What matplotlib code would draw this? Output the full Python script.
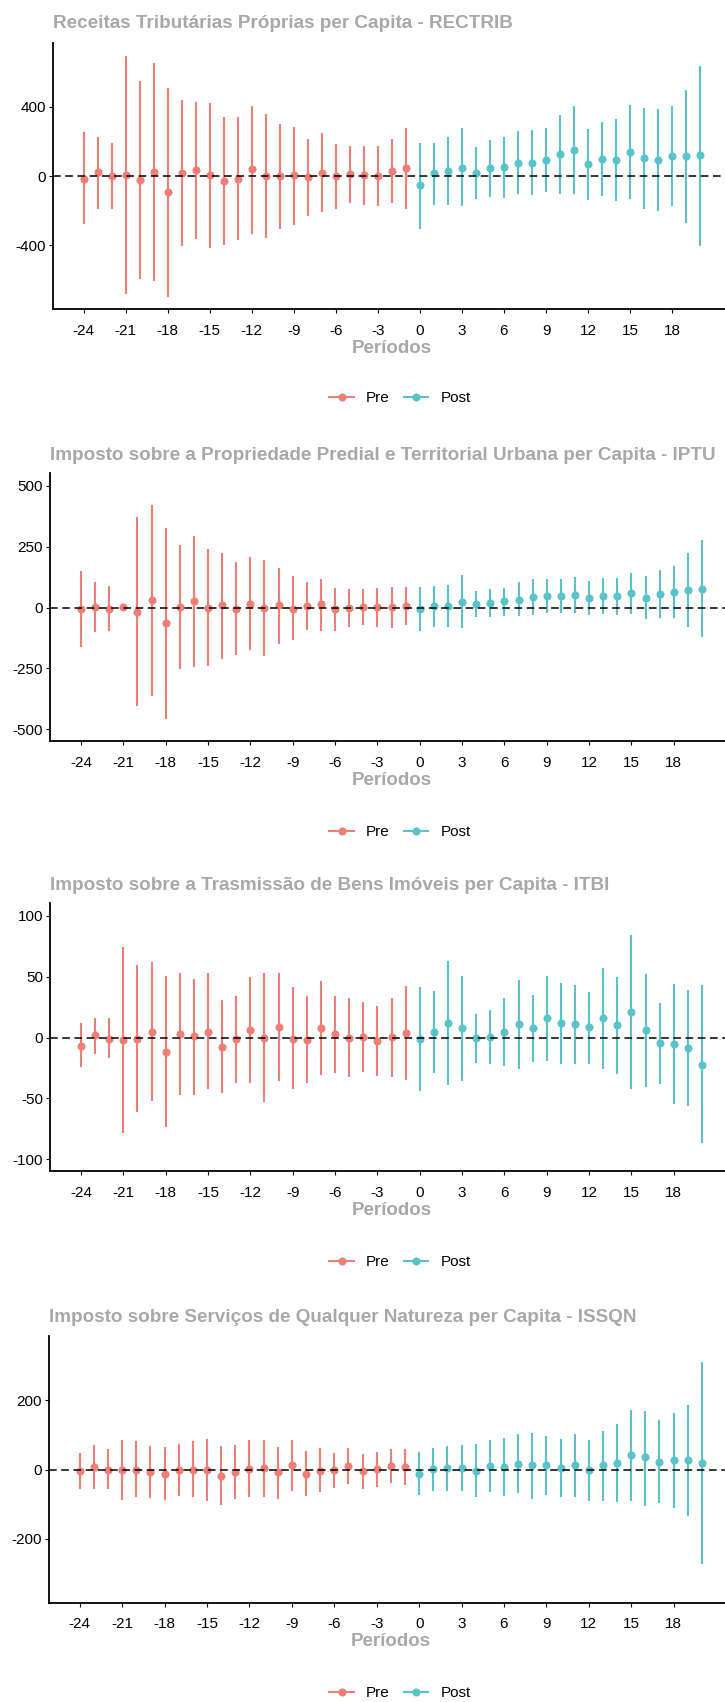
import matplotlib
matplotlib.use("Agg")
import matplotlib.pyplot as plt
from matplotlib.lines import Line2D

plt.rcParams["font.family"] = ["Liberation Sans", "DejaVu Sans"]
plt.rcParams["axes.unicode_minus"] = False

# ---------------- DADOS ----------------
periodos = list(range(-24, 21))   # -24..-1 = Pre, 0..20 = Post
xticks = list(range(-24, 19, 3))

titulos = [
    "Receitas Tributárias Próprias per Capita - RECTRIB",
    "Imposto sobre a Propriedade Predial e Territorial Urbana per Capita - IPTU",
    "Imposto sobre a Trasmissão de Bens Imóveis per Capita - ITBI",
    "Imposto sobre Serviços de Qualquer Natureza per Capita - ISSQN",
]

# RECTRIB
rectrib_est = [-15, 23, 0, 6, -23, 23, -94, 17, 35, 6, -27, -15, 40, 0, 0, 6, -4, 17, 0, 13, 6, 0, 27, 46,
               -54, 19, 31, 50, 19, 46, 52, 77, 77, 94, 127, 150, 69, 100, 91, 141, 104, 94, 114, 114, 120]
rectrib_hi = [253, 229, 191, 694, 549, 654, 511, 441, 430, 420, 341, 341, 407, 359, 303, 285, 216, 249, 185, 175, 175, 177, 212, 278,
              189, 193, 227, 276, 168, 208, 229, 260, 268, 278, 355, 407, 272, 312, 328, 413, 393, 389, 403, 499, 638]
rectrib_lo = [-276, -189, -191, -684, -592, -605, -698, -401, -364, -418, -399, -372, -332, -355, -305, -281, -231, -208, -191, -154, -166, -175, -158, -189,
              -303, -164, -164, -172, -131, -123, -127, -104, -110, -91, -104, -104, -137, -112, -143, -131, -189, -199, -172, -272, -401]

# IPTU
iptu_est = [-4, 3, -4, 3, -18, 29, -64, 3, 25, 0, 10, -4, 16, 0, 10, -4, 7, 14, -4, 0, 3, 3, 3, 8,
            -7, 7, 7, 22, 16, 19, 26, 32, 42, 47, 49, 53, 38, 49, 49, 59, 38, 56, 62, 74, 78]
iptu_hi = [152, 107, 89, 8, 373, 421, 326, 256, 295, 242, 225, 189, 208, 197, 164, 129, 105, 118, 82, 75, 77, 82, 86, 86,
           84, 89, 93, 133, 70, 75, 82, 103, 116, 116, 119, 126, 110, 122, 122, 142, 129, 153, 171, 223, 278]
iptu_lo = [-162, -101, -97, -2, -403, -363, -460, -253, -244, -240, -210, -196, -175, -201, -148, -133, -92, -97, -95, -78, -73, -78, -84, -71,
           -97, -82, -78, -85, -37, -40, -36, -36, -29, -23, -21, -23, -29, -26, -29, -26, -48, -45, -45, -78, -123]

# ITBI
itbi_est = [-6.6, 1.9, -0.8, -2.2, -0.8, 4.9, -11.8, 3.3, 1.4, 4.9, -7.4, -1.4, 6.3, 0, 9.0, -0.8, -2.2, 7.7, 2.7, 0, 0.5, -2.5, 0.5, 3.8,
            -0.8, 4.4, 12.3, 7.7, 0, 0.5, 4.9, 11.0, 7.7, 16.2, 11.8, 11.0, 8.5, 16.2, 10.4, 21.4, 6.3, -4.7, -5.2, -8.5, -22.2]
itbi_hi = [11.8, 16.4, 15.9, 74.5, 59.5, 62.2, 50.4, 52.9, 48.5, 52.9, 31.0, 34.5, 49.9, 52.9, 52.9, 41.4, 34.2, 46.3, 34.2, 32.3, 29.3, 26.3, 32.9, 42.5,
           41.9, 38.6, 62.7, 51.0, 19.7, 22.5, 32.6, 47.7, 34.8, 51.0, 45.2, 43.3, 37.5, 57.5, 49.9, 84.7, 52.6, 28.8, 44.4, 39.2, 43.0]
itbi_lo = [-24.4, -13.2, -16.7, -78.1, -61.1, -51.8, -73.4, -47.4, -46.9, -42.7, -45.8, -37.3, -37.5, -53.2, -35.6, -42.7, -37.5, -30.4, -29.3, -32.3, -28.2, -31.8, -32.1, -35.1,
           -43.6, -29.3, -38.9, -35.6, -20.6, -21.9, -23.3, -25.8, -20.0, -19.5, -21.4, -21.4, -21.4, -25.5, -29.9, -42.2, -40.3, -38.1, -54.5, -55.9, -87.1]

# ISSQN
issqn_est = [-5, 8, 0, -2, 0, -7, -12, 0, 0, 0, -18, -7, 2, 5, -8, 12, -12, -3, 0, 10, -5, 1, 10, 7,
             -12, 2, 5, 5, -5, 10, 8, 16, 12, 12, 5, 14, -2, 12, 18, 41, 35, 23, 28, 28, 18]
issqn_hi = [47, 70, 59, 86, 82, 68, 65, 75, 82, 88, 67, 72, 84, 86, 65, 84, 54, 62, 49, 62, 44, 51, 60, 60,
            50, 63, 69, 71, 74, 85, 90, 102, 105, 96, 87, 102, 85, 112, 132, 172, 169, 144, 163, 187, 311]
issqn_lo = [-57, -57, -57, -88, -80, -82, -87, -76, -80, -90, -103, -86, -78, -80, -85, -63, -75, -66, -52, -42, -57, -51, -40, -44,
            -73, -61, -61, -61, -80, -66, -77, -69, -85, -73, -80, -78, -90, -90, -95, -92, -104, -97, -110, -133, -273]

estimativas = [rectrib_est, iptu_est, itbi_est, issqn_est]
superior = [rectrib_hi, iptu_hi, itbi_hi, issqn_hi]
inferior = [rectrib_lo, iptu_lo, itbi_lo, issqn_lo]
yticks = [[-400, 0, 400], [-500, -250, 0, 250, 500], [-100, -50, 0, 50, 100], [-200, 0, 200]]
ylims = [(-768, 768), (-550, 552), (-110, 110.4), (-384, 386)]

# ---------------- LAYOUT ----------------
W, H = 725, 1702
COR_PRE = "#EE7E76"
COR_POST = "#58C3C8"
CINZA = "#A8A8A8"

# (left, top, right, bottom) do painel em pixels, y do titulo, y da legenda
paineis = [
    (52.7, 43.3, 731, 309.0, 24, 398),
    (50.0, 473.3, 733, 741.3, 455, 832),
    (50.0, 903.3, 733, 1171.3, 885, 1262),
    (48.7, 1335.7, 733, 1602.7, 1317, 1693),
]

fig = plt.figure(figsize=(W / 100, H / 100), dpi=100)

for i, (l, t, r, b, ytit, yleg) in enumerate(paineis):
    ax = fig.add_axes([l / W, 1 - b / H, (r - l) / W, (b - t) / H])
    est, hi, lo = estimativas[i], superior[i], inferior[i]

    for p, e, h, lw in zip(periodos, est, hi, lo):
        cor = COR_PRE if p < 0 else COR_POST
        ax.vlines(p, lw, h, color=cor, linewidth=1.5, zorder=2)
        ax.plot(p, e, "o", color=cor, markersize=4.8, zorder=3)

    ax.axhline(0, color="black", linestyle=(0, (5, 3)), linewidth=1.1, zorder=4)

    ax.set_xlim(-26.2, 22.2)
    ax.set_ylim(*ylims[i])
    ax.set_xticks(xticks)
    ax.set_yticks(yticks[i])
    ax.tick_params(labelsize=11, colors="black", length=3, width=0.8, pad=2)
    ax.tick_params(axis="x", pad=7.5)

    for lado in ["top", "right"]:
        ax.spines[lado].set_visible(False)
    for lado in ["left", "bottom"]:
        ax.spines[lado].set_linewidth(1.3)
        ax.spines[lado].set_color("black")

    ax.set_xlabel("Períodos", fontsize=13.5, fontweight="bold", color=CINZA, labelpad=1.5)

    fig.text(l / W, 1 - ytit / H, titulos[i], fontsize=13.6, fontweight="bold",
             color=CINZA, ha="left", va="center")

    handles = [
        Line2D([0], [0], color=COR_PRE, marker="o", markersize=4.8, linewidth=1.5),
        Line2D([0], [0], color=COR_POST, marker="o", markersize=4.8, linewidth=1.5),
    ]
    fig.legend(handles, ["Pre", "Post"], loc="center", bbox_to_anchor=(400 / W, 1 - yleg / H),
               ncol=2, frameon=False, fontsize=11, handlelength=1.6, columnspacing=0.9,
               handletextpad=0.8)

fig.savefig("out.png", dpi=100)
plt.close(fig)
